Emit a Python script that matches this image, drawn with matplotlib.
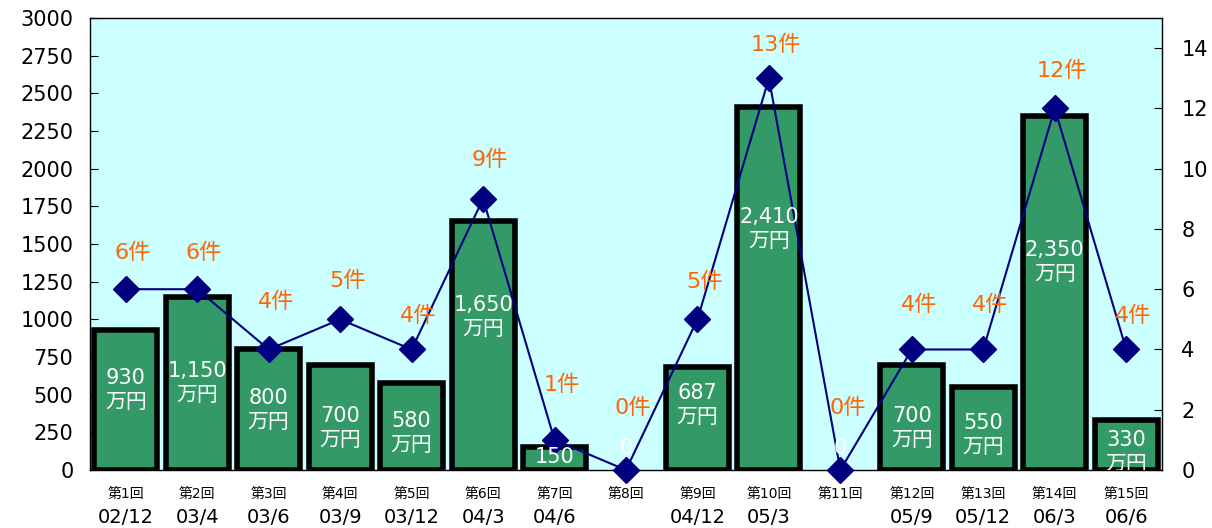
import matplotlib.pyplot as plt
import matplotlib.transforms as mtransforms

plt.rcParams['font.family'] = ['DejaVu Sans', 'Noto Sans CJK JP']

rounds = ['第1回', '第2回', '第3回', '第4回', '第5回', '第6回', '第7回', '第8回',
          '第9回', '第10回', '第11回', '第12回', '第13回', '第14回', '第15回']
dates = ['02/12', '03/4', '03/6', '03/9', '03/12', '04/3', '04/6', '',
         '04/12', '05/3', '', '05/9', '05/12', '06/3', '06/6']
amounts = [930, 1150, 800, 700, 580, 1650, 150, 0, 687, 2410, 0, 700, 550, 2350, 330]
counts = [6, 6, 4, 5, 4, 9, 1, 0, 5, 13, 0, 4, 4, 12, 4]

# where the white text sits inside each bar (data units of the left axis)
label_y = [531, 577, 398, 279, 245, 1015, 86, 146, 431, 1600, 146, 279, 232, 1380, 120]
# how far above each marker the orange count sits (points)
count_dy = [26, 26, 34, 28, 24, 28, 40, 45, 27, 24, 45, 32, 32, 27, 24]

fig = plt.figure(figsize=(12.12, 5.28), dpi=100)
ax = fig.add_axes([0.0743, 0.1098, 0.8844, 0.8561])
ax.set_facecolor('#CCFFFF')
x = list(range(len(rounds)))

bx = [i for i in x if amounts[i] > 0]
ax.bar(bx, [amounts[i] for i in bx], width=0.88, color='#339966',
       edgecolor='black', linewidth=4, zorder=2)
ax.set_xlim(-0.5, len(rounds) - 0.5)
ax.set_ylim(0, 3000)
ax.set_yticks(range(0, 3001, 250))
ax.tick_params(axis='y', direction='in', labelsize=15, length=6, pad=12)
ax.set_xticks(x)
ax.set_xticklabels(rounds, fontsize=10)
ax.tick_params(axis='x', length=0, pad=12)
for s in ax.spines.values():
    s.set_color('#333333')
    s.set_linewidth(1)

ax2 = ax.twinx()
ax2.plot(x, counts, color='#000080', linewidth=1.5, marker='D', markersize=13,
         markerfacecolor='#000080', markeredgecolor='#000080', zorder=3, clip_on=False)
ax2.set_ylim(0, 15)
ax2.set_yticks(range(0, 15, 2))
ax2.tick_params(axis='y', direction='in', labelsize=15, length=6, pad=14)

for i, v in enumerate(amounts):
    if v >= 300:
        txt = f'{v:,}\n万円'
    else:
        txt = f'{v:,}'
    ax2.text(i, label_y[i], txt, transform=ax.transData, ha='center', va='center',
             color='white', fontsize=15, linespacing=1.25, zorder=5, clip_on=True)

for i, c in enumerate(counts):
    ax2.annotate(f'{c}件', (i, c), xytext=(5, count_dy[i]), textcoords='offset points',
                 ha='center', va='center', color='#FF6600', fontsize=16, zorder=5)

blend = mtransforms.blended_transform_factory(ax.transData, ax.transAxes)
for i, d in enumerate(dates):
    if d:
        ax.text(i, -0.104, d, transform=blend, ha='center', va='center', fontsize=14)

fig.savefig('out.png', dpi=100)
